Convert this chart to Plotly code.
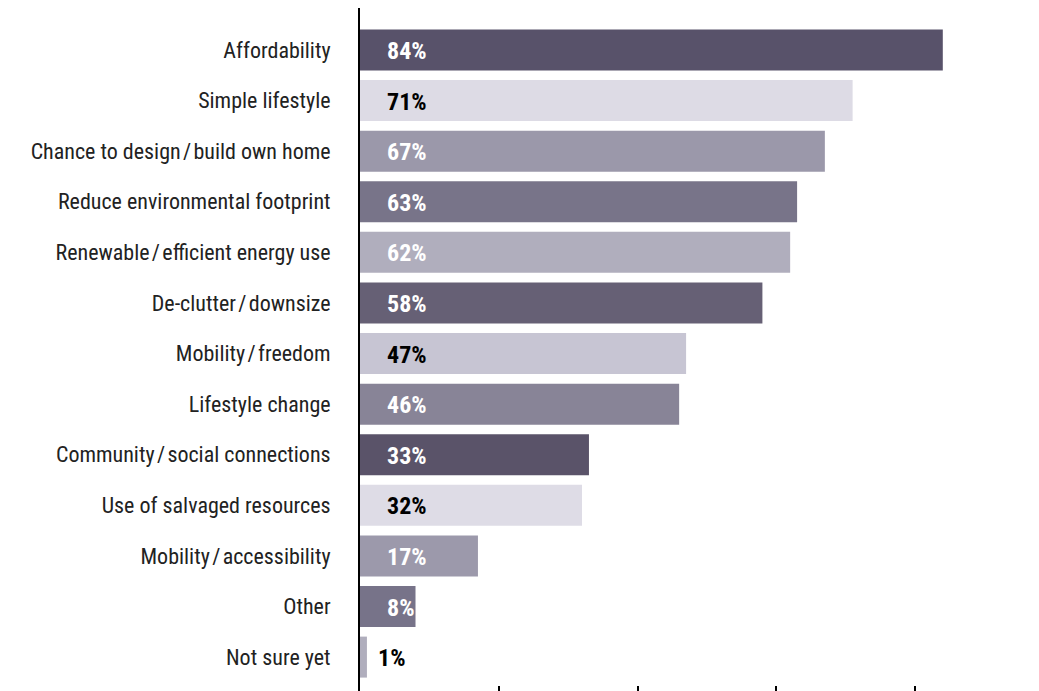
import plotly.graph_objects as go

# Reasons for choosing a tiny home, share of respondents (%)
categories = [
    "Affordability",
    "Simple lifestyle",
    "Chance to design\u200a/\u200abuild own home",
    "Reduce environmental footprint",
    "Renewable\u200a/\u200aefficient energy use",
    "De-clutter\u200a/\u200adownsize",
    "Mobility\u200a/\u200afreedom",
    "Lifestyle change",
    "Community\u200a/\u200asocial connections",
    "Use of salvaged resources",
    "Mobility\u200a/\u200aaccessibility",
    "Other",
    "Not sure yet",
]
values = [84, 71, 67, 63, 62, 58, 47, 46, 33, 32, 17, 8, 1]

bar_colors = [
    "#58526a", "#dddbe5", "#9b98aa", "#787489", "#b0aebd", "#666075",
    "#c7c5d3", "#888497", "#5a5369", "#dedce6", "#9c99ab", "#777389", "#b0aebd",
]
# light bars carry dark value text
text_colors = [
    "white", "black", "white", "white", "white", "white",
    "black", "white", "white", "black", "white", "white", "black",
]

FONT = "Roboto Condensed, Liberation Sans, sans-serif"

fig = go.Figure(
    go.Bar(
        x=values,
        y=categories,
        orientation="h",
        marker=dict(color=bar_colors, line=dict(width=0)),
        hoverinfo="skip",
    )
)

# value labels: left-aligned inside the bar; short bars get end-aligned or outside text
for cat, val, tc in zip(categories, values, text_colors):
    if val >= 10:
        xpos, anchor, shift = 0, "left", 25
    elif val >= 5:
        xpos, anchor, shift = val, "right", 0
    else:
        xpos, anchor, shift = val, "left", 9
    fig.add_annotation(
        x=xpos, y=cat, xref="x", yref="y",
        text=f"<b>{val}%</b>", showarrow=False,
        xanchor=anchor, yanchor="middle", xshift=shift, yshift=-1,
        font=dict(family=FONT, size=24, color=tc),
    )

fig.update_layout(
    width=1039, height=691,
    margin=dict(l=360, r=6, t=8, b=0, autoexpand=False),
    paper_bgcolor="white", plot_bgcolor="white",
    bargap=0.19,
    showlegend=False,
    font=dict(family=FONT, size=22, color="#222222"),
    xaxis=dict(
        range=[0, 97], showgrid=False, zeroline=False, showline=False,
        tickvals=[20, 40, 60, 80], ticks="inside", ticklen=5, tickwidth=1.5,
        tickcolor="black", showticklabels=False, automargin=False,
    ),
    yaxis=dict(
        range=[12.67, -0.83], showgrid=False, zeroline=False,
        showline=True, linecolor="black", linewidth=2,
        ticks="", ticklabelstandoff=23, automargin=False,
        tickfont=dict(family=FONT, size=22, color="#222222"),
    ),
)

fig.write_html("out.html")
